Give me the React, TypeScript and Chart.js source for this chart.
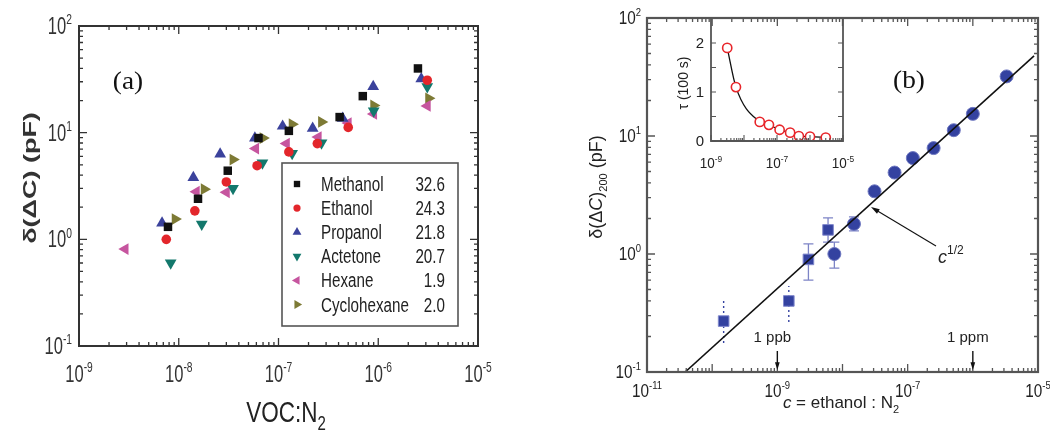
import React, { useEffect, useRef } from "react";
import { Chart, registerables } from "chart.js";
Chart.register(...registerables);

// ---------------- Panel (a) data ----------------
const vocNames = ["Methanol", "Ethanol", "Propanol", "Actetone", "Hexane", "Cyclohexane"];
const vocConstants = ["32.6", "24.3", "21.8", "20.7", "1.9", "2.0"];
const methanolX = [7.8e-9, 1.56e-8, 3.1e-8, 6.3e-8, 1.27e-7, 4.1e-7, 7.0e-7, 2.5e-6];
const methanolY = [1.31, 2.4, 4.4, 8.9, 10.4, 14, 22, 40];
const ethanolX = [7.5e-9, 1.45e-8, 3.0e-8, 6.1e-8, 1.27e-7, 2.45e-7, 5.0e-7, 3.1e-6];
const ethanolY = [1.0, 1.85, 3.45, 4.9, 6.6, 7.9, 11.2, 31];
const propanolX = [6.8e-9, 1.4e-8, 2.6e-8, 5.8e-8, 1.1e-7, 2.2e-7, 4.4e-7, 8.9e-7, 2.7e-6];
const propanolY = [1.42, 3.8, 6.3, 8.9, 11.5, 11, 13.6, 27, 32];
const acetoneX = [8.3e-9, 1.7e-8, 3.5e-8, 6.9e-8, 1.37e-7, 2.7e-7, 9.0e-7, 3.1e-6];
const acetoneY = [0.6, 1.39, 3.0, 5.2, 6.4, 8.0, 16, 27];
const hexaneX = [2.9e-9, 1.5e-8, 3.0e-8, 5.9e-8, 1.2e-7, 2.5e-7, 5.0e-7, 9.0e-7, 3.1e-6];
const hexaneY = [0.81, 2.8, 2.76, 7.1, 7.9, 9.1, 12.3, 15, 17.8];
const cyclohexaneX = [9.2e-9, 1.8e-8, 3.5e-8, 7.0e-8, 1.37e-7, 2.7e-7, 9.0e-7, 3.2e-6];
const cyclohexaneY = [1.55, 2.95, 5.6, 8.9, 12, 12.6, 18, 21];
const vocXs = [methanolX, ethanolX, propanolX, acetoneX, hexaneX, cyclohexaneX];
const vocYs = [methanolY, ethanolY, propanolY, acetoneY, hexaneY, cyclohexaneY];
const xTickExpA = [-9, -8, -7, -6, -5];
const yTickExpA = [-1, 0, 1, 2];

// ---------------- Panel (b) data ----------------
const squareX = [1.5e-10, 1.5e-9, 3.0e-9, 6.0e-9];
const squareY = [0.27, 0.4, 0.9, 1.6];
const squareErrLow = [0.176, 0.265, 0.6, 1.26];
const squareErrHigh = [0.41, 0.535, 1.22, 2.02];
const squareErrDotted = [true, true, false, false];
const circleX = [7.5e-9, 1.5e-8, 3.1e-8, 6.3e-8, 1.2e-7, 2.5e-7, 5.1e-7, 1.0e-6, 3.3e-6];
const circleY = [1.0, 1.8, 3.4, 4.9, 6.5, 7.9, 11.2, 15.4, 32];
const circleErrX = [7.5e-9, 1.5e-8];
const circleErrLow = [0.76, 1.57];
const circleErrHigh = [1.26, 2.06];
const fitX = [3.85e-11, 8.7e-6];
const fitY = [0.1, 47.8];
const xTickExpB = [-11, -9, -7, -5];
const yTickExpB = [-1, 0, 1, 2];
const ppbX = 1e-9;
const ppmX = 1e-6;

// ---------------- Inset data ----------------
const tauX = [3.1e-9, 5.7e-9, 3.0e-8, 5.7e-8, 1.2e-7, 2.5e-7, 4.6e-7, 1.0e-6, 3.0e-6];
const tauY = [1.9, 1.1, 0.39, 0.33, 0.23, 0.17, 0.1, 0.09, 0.07];
const insetXTickExp = [-9, -7, -5];
const insetYTicks = [0, 1, 2];

// ---------------- helpers ----------------
const SANS = "'Liberation Sans', Arial, Helvetica, sans-serif";
const SERIF = "'Liberation Serif', 'Times New Roman', serif";

type Seg = { t: string; size: number; style?: string; weight?: string; dy?: number; family?: string };

function fontOf(s: Seg, fam: string) {
  return `${s.style || "normal"} ${s.weight || "normal"} ${s.size}px ${s.family || fam}`;
}

function drawRich(
  ctx: CanvasRenderingContext2D,
  segs: Seg[],
  x: number,
  y: number,
  o: { fam?: string; align?: "left" | "center" | "right"; sx?: number; rot?: number; color?: string; screenSx?: number }
) {
  const fam = o.fam || SANS;
  ctx.save();
  ctx.translate(x, y);
  if (o.screenSx) ctx.scale(o.screenSx, 1);
  if (o.rot) ctx.rotate(o.rot);
  if (o.sx) ctx.scale(o.sx, 1);
  let w = 0;
  for (const s of segs) {
    ctx.font = fontOf(s, fam);
    w += ctx.measureText(s.t).width;
  }
  let cx = o.align === "center" ? -w / 2 : o.align === "right" ? -w : 0;
  ctx.fillStyle = o.color || "#222";
  ctx.textAlign = "left";
  ctx.textBaseline = "alphabetic";
  for (const s of segs) {
    ctx.font = fontOf(s, fam);
    ctx.fillText(s.t, cx, s.dy || 0);
    cx += ctx.measureText(s.t).width;
  }
  ctx.restore();
}

function powSegs(exp: number, size: number): Seg[] {
  return [
    { t: "10", size },
    { t: String(exp), size: size * 0.62, dy: -size * 0.42 },
  ];
}

function logTicks(
  ctx: CanvasRenderingContext2D,
  scale: any,
  area: any,
  dir: "x" | "y",
  minE: number,
  maxE: number,
  maj: number,
  min: number,
  sides: { a: boolean; b: boolean }
) {
  ctx.beginPath();
  for (let e = minE; e <= maxE; e++) {
    for (let m = 1; m <= 9; m++) {
      if (e === maxE && m > 1) break;
      const v = m * Math.pow(10, e);
      const p = scale.getPixelForValue(v);
      const len = m === 1 ? maj : min;
      if (dir === "x") {
        if (sides.a) { ctx.moveTo(p, area.bottom); ctx.lineTo(p, area.bottom - len); }
        if (sides.b) { ctx.moveTo(p, area.top); ctx.lineTo(p, area.top + len); }
      } else {
        if (sides.a) { ctx.moveTo(area.left, p); ctx.lineTo(area.left + len, p); }
        if (sides.b) { ctx.moveTo(area.right, p); ctx.lineTo(area.right - len, p); }
      }
    }
  }
  ctx.stroke();
}

function drawMarker(ctx: CanvasRenderingContext2D, style: string, rot: number, x: number, y: number, r: number, color: string) {
  ctx.save();
  ctx.fillStyle = color;
  ctx.beginPath();
  if (style === "rect") {
    const s = r * Math.SQRT1_2;
    ctx.rect(x - s, y - s, 2 * s, 2 * s);
  } else if (style === "circle") {
    ctx.arc(x, y, r, 0, Math.PI * 2);
  } else {
    let a = (rot * Math.PI) / 180;
    ctx.moveTo(x + Math.sin(a) * r, y - Math.cos(a) * r);
    a += (2 * Math.PI) / 3;
    ctx.lineTo(x + Math.sin(a) * r, y - Math.cos(a) * r);
    a += (2 * Math.PI) / 3;
    ctx.lineTo(x + Math.sin(a) * r, y - Math.cos(a) * r);
    ctx.closePath();
  }
  ctx.fill();
  ctx.restore();
}

function arrow(ctx: CanvasRenderingContext2D, x1: number, y1: number, x2: number, y2: number, head: number, lw: number) {
  const ang = Math.atan2(y2 - y1, x2 - x1);
  ctx.save();
  ctx.strokeStyle = "#111";
  ctx.fillStyle = "#111";
  ctx.lineWidth = lw;
  ctx.beginPath();
  ctx.moveTo(x1, y1);
  ctx.lineTo(x2 - Math.cos(ang) * head * 0.8, y2 - Math.sin(ang) * head * 0.8);
  ctx.stroke();
  ctx.beginPath();
  ctx.moveTo(x2, y2);
  ctx.lineTo(x2 - Math.cos(ang - 0.3) * head, y2 - Math.sin(ang - 0.3) * head);
  ctx.lineTo(x2 - Math.cos(ang + 0.3) * head, y2 - Math.sin(ang + 0.3) * head);
  ctx.closePath();
  ctx.fill();
  ctx.restore();
}

const pts = (xs: number[], ys: number[]) => xs.map((x, i) => ({ x, y: ys[i] }));

const vocColors = ["#111111", "#e3262b", "#3b429c", "#13786c", "#c6559f", "#7d7a35"];
const vocStyles = ["rect", "circle", "triangle", "triangle", "triangle", "triangle"];
const vocRot = [0, 0, 0, 180, -90, 90];
const vocRadius = [6, 4.8, 6.8, 6.8, 6.8, 6.8];

const baseOpts = (padding: any, xs: any, ys: any) => ({
  animation: false as const,
  responsive: false,
  devicePixelRatio: 1,
  events: [] as any,
  layout: { padding },
  plugins: { legend: { display: false }, tooltip: { enabled: false }, title: { display: false } },
  scales: { x: { ...xs, display: false }, y: { ...ys, display: false } },
});

function makeA(canvas: HTMLCanvasElement) {
  const plugin = {
    id: "frameA",
    afterDatasetsDraw(chart: any) {
      const ctx: CanvasRenderingContext2D = chart.ctx;
      const a = chart.chartArea;
      const sx = chart.scales.x, sy = chart.scales.y;
      ctx.save();
      ctx.strokeStyle = "#333";
      ctx.lineWidth = 2;
      ctx.strokeRect(a.left, a.top, a.right - a.left, a.bottom - a.top);
      ctx.lineWidth = 1.3;
      logTicks(ctx, sx, a, "x", -9, -5, 8, 4, { a: true, b: true });
      logTicks(ctx, sy, a, "y", -1, 2, 8, 4, { a: true, b: true });
      for (const e of xTickExpA) {
        drawRich(ctx, powSegs(e, 23), sx.getPixelForValue(Math.pow(10, e)), 382, { align: "center", sx: 0.72, color: "#333" });
      }
      for (const e of yTickExpA) {
        drawRich(ctx, powSegs(e, 23), 72, sy.getPixelForValue(Math.pow(10, e)) + 8, { align: "right", sx: 0.72, color: "#333" });
      }
      drawRich(ctx, [{ t: "δ(ΔC) (pF)", size: 27, weight: "bold" }], 36, 178, { align: "center", rot: -Math.PI / 2, screenSx: 0.7, color: "#333" });
      drawRich(ctx, [{ t: "VOC:N", size: 30 }, { t: "2", size: 20, dy: 8 }], 286, 422, { align: "center", sx: 0.75, color: "#222" });
      drawRich(ctx, [{ t: "(a)", size: 26 }], 128, 89, { align: "center", fam: SERIF, sx: 1.05, color: "#111" });
      ctx.fillStyle = "#fff";
      ctx.fillRect(282, 163, 176, 163);
      ctx.strokeStyle = "#555";
      ctx.lineWidth = 1.6;
      ctx.strokeRect(282, 163, 176, 163);
      vocNames.forEach((n, i) => {
        const yy = 184 + i * 24.1;
        drawMarker(ctx, vocStyles[i], vocRot[i], 297, yy, vocRadius[i] * 0.75, vocColors[i]);
        drawRich(ctx, [{ t: n, size: 20 }], 321, yy + 7, { align: "left", sx: 0.76, color: "#222" });
        drawRich(ctx, [{ t: vocConstants[i], size: 20 }], 445, yy + 7, { align: "right", sx: 0.76, color: "#222" });
      });
      ctx.restore();
    },
  };
  return new Chart(canvas, {
    type: "scatter",
    data: {
      datasets: vocNames.map((n, i) => ({
        label: n,
        data: pts(vocXs[i], vocYs[i]),
        pointStyle: vocStyles[i] as any,
        rotation: vocRot[i],
        pointRadius: vocRadius[i],
        backgroundColor: vocColors[i],
        borderColor: vocColors[i],
        borderWidth: 0,
        showLine: false,
      })),
    },
    options: baseOpts(
      { left: 79, right: 47, top: 26, bottom: 91 },
      { type: "logarithmic", min: 1e-9, max: 1e-5 },
      { type: "logarithmic", min: 0.1, max: 100 }
    ) as any,
    plugins: [plugin],
  });
}

const blue = "#3442a0";
const errBlue = "#7d84c6";

function makeB(canvas: HTMLCanvasElement) {
  const OX = 525;
  const plugin = {
    id: "frameB",
    beforeDatasetsDraw(chart: any) {
      const ctx: CanvasRenderingContext2D = chart.ctx;
      const sx = chart.scales.x, sy = chart.scales.y;
      ctx.save();
      const bar = (xv: number, lo: number, hi: number, dotted: boolean) => {
        const px = sx.getPixelForValue(xv);
        const y1 = sy.getPixelForValue(lo), y2 = sy.getPixelForValue(hi);
        ctx.beginPath();
        if (dotted) {
          ctx.strokeStyle = blue;
          ctx.lineWidth = 1.4;
          ctx.setLineDash([2, 3]);
          ctx.moveTo(px, y1); ctx.lineTo(px, y2);
        } else {
          ctx.strokeStyle = errBlue;
          ctx.lineWidth = 1.3;
          ctx.setLineDash([]);
          ctx.moveTo(px, y1); ctx.lineTo(px, y2);
          ctx.moveTo(px - 5, y1); ctx.lineTo(px + 5, y1);
          ctx.moveTo(px - 5, y2); ctx.lineTo(px + 5, y2);
        }
        ctx.stroke();
      };
      squareX.forEach((x, i) => bar(x, squareErrLow[i], squareErrHigh[i], squareErrDotted[i]));
      circleErrX.forEach((x, i) => bar(x, circleErrLow[i], circleErrHigh[i], false));
      ctx.restore();
    },
    afterDatasetsDraw(chart: any) {
      const ctx: CanvasRenderingContext2D = chart.ctx;
      const a = chart.chartArea;
      const sx = chart.scales.x, sy = chart.scales.y;
      ctx.save();
      ctx.strokeStyle = "#555";
      ctx.lineWidth = 2.2;
      ctx.strokeRect(a.left, a.top, a.right - a.left, a.bottom - a.top);
      ctx.lineWidth = 1.3;
      logTicks(ctx, sx, a, "x", -11, -5, 8, 4, { a: true, b: true });
      logTicks(ctx, sy, a, "y", -1, 2, 8, 4, { a: true, b: true });
      for (const e of xTickExpB) {
        drawRich(ctx, powSegs(e, 18), sx.getPixelForValue(Math.pow(10, e)), 397, { align: "center", sx: 0.85, color: "#222" });
      }
      for (const e of yTickExpB) {
        drawRich(ctx, powSegs(e, 18), 641 - OX, sy.getPixelForValue(Math.pow(10, e)) + 6, { align: "right", sx: 0.85, color: "#222" });
      }
      drawRich(
        ctx,
        [
          { t: "δ(Δ", size: 18 },
          { t: "C", size: 18, style: "italic" },
          { t: ")", size: 18 },
          { t: "200", size: 11, dy: 5 },
          { t: " (pF)", size: 18 },
        ],
        602 - OX,
        187,
        { align: "center", rot: -Math.PI / 2, color: "#222" }
      );
      drawRich(
        ctx,
        [
          { t: "c", size: 17, style: "italic" },
          { t: " = ethanol : N", size: 17 },
          { t: "2", size: 11, dy: 5 },
        ],
        841 - OX,
        408,
        { align: "center", color: "#222" }
      );
      drawRich(ctx, [{ t: "(b)", size: 26 }], 909 - OX, 88, { align: "center", fam: SERIF, sx: 1.05, color: "#111" });
      drawRich(ctx, [{ t: "c", size: 18, style: "italic" }, { t: "1/2", size: 12, dy: -9 }], 938 - OX, 263, { align: "left", color: "#222" });
      arrow(ctx, 936 - OX, 246, 871 - OX, 207, 9, 1.1);
      const pb = sx.getPixelForValue(ppbX);
      const pm = sx.getPixelForValue(ppmX);
      drawRich(ctx, [{ t: "1 ppb", size: 15 }], pb - 5, 342, { align: "center", color: "#222" });
      drawRich(ctx, [{ t: "1 ppm", size: 15 }], pm - 5, 342, { align: "center", color: "#222" });
      arrow(ctx, pb, 351, pb, 370, 8, 1.4);
      arrow(ctx, pm, 351, pm, 370, 8, 1.4);
      ctx.restore();
    },
  };
  return new Chart(canvas, {
    type: "scatter",
    data: {
      datasets: [
        {
          label: "fit",
          data: pts(fitX, fitY),
          showLine: true,
          borderColor: "#111",
          borderWidth: 1.6,
          pointRadius: 0,
        },
        {
          label: "squares",
          data: pts(squareX, squareY),
          pointStyle: "rect",
          pointRadius: 7.5,
          backgroundColor: blue,
          borderColor: "#8088cc",
          borderWidth: 1,
        },
        {
          label: "circles",
          data: pts(circleX, circleY),
          pointStyle: "circle",
          pointRadius: 6.5,
          backgroundColor: blue,
          borderColor: "#6f78c0",
          borderWidth: 1,
        },
      ],
    },
    options: baseOpts(
      { left: 122, right: 12, top: 18, bottom: 65 },
      { type: "logarithmic", min: 1e-11, max: 1e-5 },
      { type: "logarithmic", min: 0.1, max: 100 }
    ) as any,
    plugins: [plugin],
  });
}

function makeInset(canvas: HTMLCanvasElement) {
  const OX = 640;
  const plugin = {
    id: "frameI",
    afterDatasetsDraw(chart: any) {
      const ctx: CanvasRenderingContext2D = chart.ctx;
      const a = chart.chartArea;
      const sx = chart.scales.x, sy = chart.scales.y;
      ctx.save();
      ctx.strokeStyle = "#555";
      ctx.lineWidth = 1.8;
      ctx.beginPath();
      ctx.moveTo(a.left, a.top);
      ctx.lineTo(a.left, a.bottom);
      ctx.lineTo(a.right, a.bottom);
      ctx.lineTo(a.right, a.top);
      ctx.stroke();
      ctx.lineWidth = 1.1;
      logTicks(ctx, sx, a, "x", -9, -5, 6, 3, { a: true, b: false });
      ctx.beginPath();
      for (let v = 0; v <= 2.5; v += 0.5) {
        const p = sy.getPixelForValue(v);
        ctx.moveTo(a.left, p); ctx.lineTo(a.left + 5, p);
        ctx.moveTo(a.right, p); ctx.lineTo(a.right - 5, p);
      }
      ctx.stroke();
      for (const e of insetXTickExp) {
        drawRich(ctx, powSegs(e, 15), sx.getPixelForValue(Math.pow(10, e)), 168, { align: "center", sx: 0.9, color: "#222" });
      }
      for (const v of insetYTicks) {
        drawRich(ctx, [{ t: String(v), size: 15 }], 704 - OX, sy.getPixelForValue(v) + 5, { align: "right", color: "#222" });
      }
      drawRich(ctx, [{ t: "τ (100 s)", size: 14 }], 688 - OX, 83, { align: "center", rot: -Math.PI / 2, color: "#222" });
      ctx.restore();
    },
  };
  return new Chart(canvas, {
    type: "scatter",
    data: {
      datasets: [
        {
          label: "tau",
          data: pts(tauX, tauY),
          showLine: true,
          borderColor: "#111",
          borderWidth: 1.3,
          cubicInterpolationMode: "monotone",
          pointStyle: "circle",
          pointRadius: 4.6,
          pointBackgroundColor: "#fff",
          pointBorderColor: "#e8262b",
          pointBorderWidth: 1.6,
        } as any,
      ],
    },
    options: baseOpts(
      { left: 71, right: 17, top: 18.5, bottom: 39 },
      { type: "logarithmic", min: 1e-9, max: 1e-5 },
      { type: "linear", min: 0, max: 2.5 }
    ) as any,
    plugins: [plugin],
  });
}

export default function App() {
  const aRef = useRef<HTMLCanvasElement>(null);
  const bRef = useRef<HTMLCanvasElement>(null);
  const iRef = useRef<HTMLCanvasElement>(null);
  useEffect(() => {
    const charts = [makeA(aRef.current!), makeB(bRef.current!), makeInset(iRef.current!)];
    return () => charts.forEach((c) => c.destroy());
  }, []);
  return (
    <div style={{ position: "absolute", left: 0, top: 0, width: 1050, height: 437, background: "#fff", overflow: "hidden" }}>
      <canvas ref={aRef} width={525} height={437} style={{ position: "absolute", left: 0, top: 0, width: 525, height: 437 }} />
      <canvas ref={bRef} width={525} height={437} style={{ position: "absolute", left: 525, top: 0, width: 525, height: 437 }} />
      <canvas ref={iRef} width={220} height={180} style={{ position: "absolute", left: 640, top: 0, width: 220, height: 180 }} />
    </div>
  );
}
